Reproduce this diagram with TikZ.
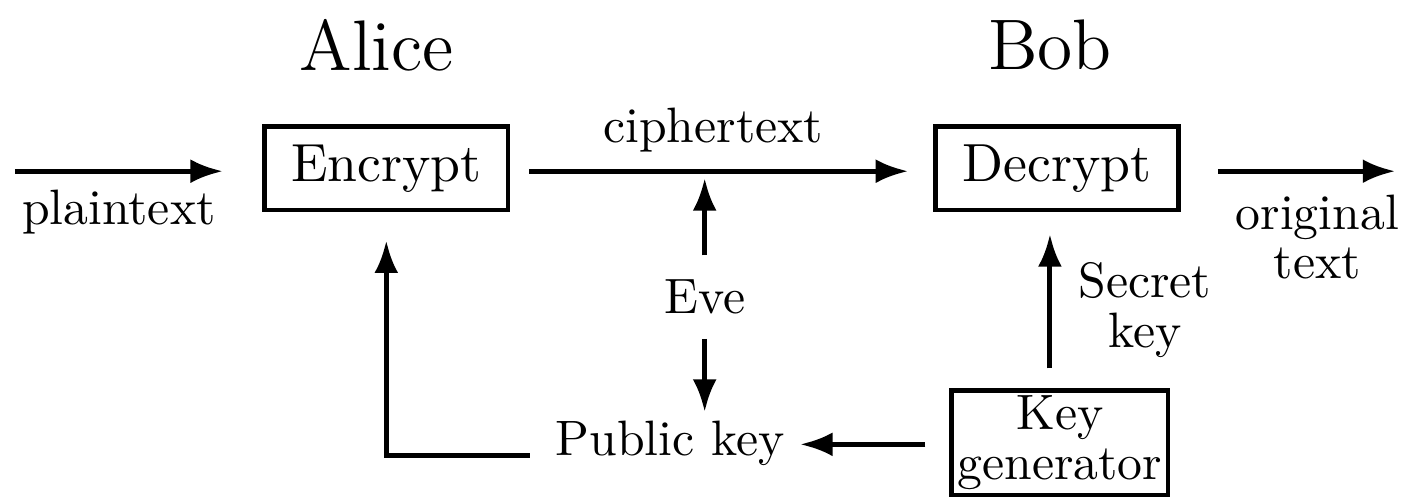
\documentclass[tikz,border=0pt]{standalone}
\usetikzlibrary{arrows}
\usetikzlibrary{arrows.meta}
\usetikzlibrary{calc}
\usepackage{xcolor}

\tikzset{
  box/.style={draw,line width=0.9pt,font=\fontsize{10.8}{13}\selectfont,minimum width=1.72cm,minimum height=0.59cm},
  twoline/.style={align=center,execute at begin node={\setlength{\baselineskip}{10pt}}},
  arr/.style={-{Latex[length=6.5pt,width=4.8pt]},line width=1pt}
}

\begin{document}
\begin{tikzpicture}[scale=1]
    \useasboundingbox (0,0) rectangle (10,3.52);

    \node[font=\Large] (alice) at (2.66,3.20) {Alice};
    \node[font=\Large] (bob) at (7.42,3.20) {Bob};

    \node[box] (enc) at (2.73,2.33) {Encrypt};
    \node[box] (dec) at (7.47,2.33) {Decrypt};
    \node[draw,line width=0.9pt,twoline,minimum width=1.53cm,minimum height=0.74cm,inner sep=0.5pt] (keygen) at (7.49,0.39) {Key\\generator};

    \node (eve) at (4.98,1.42) {Eve};
    \node[inner sep=1pt] (pub) at (4.735,0.39) {Public key};
    \node[twoline] (sk) at (8.09,1.33) {Secret\\key};
    \node[twoline] (orig) at (9.31,1.845) {original\\text};

    \coordinate (src) at (0.106,2.31);
    \coordinate (dst) at (9.859,2.31);
    \coordinate (tap) at (4.98,2.31);

    \draw[arr,shorten >=0.28cm] (src) -- (enc.west |- src) node[pos=0.42,below] (plain) {plaintext};
    \draw[arr,shorten <=0.134cm,shorten >=0.177cm] (enc.east |- src) -- (dec.west |- src) node[pos=0.48,above] (ctext) {ciphertext};
    \draw[arr,shorten <=0.26cm] (dec.east |- dst) -- (dst);

    \draw[arr,shorten <=0.05cm,shorten >=0.05cm] (eve) -- (tap);
    \draw[arr,shorten <=0.05cm,shorten >=0.02cm] (eve) -- (eve |- pub.north);

    \draw[arr,shorten <=0.17cm,shorten >=0.07cm] (keygen.west |- pub.mid east) -- (pub.mid east);
    \draw[arr,shorten <=0.14cm,shorten >=0.2cm] (pub.base west) -| (enc.south);
    \draw[arr,shorten <=0.14cm,shorten >=0.155cm] ([xshift=-0.07cm]keygen.north) -- ([xshift=-0.07cm]keygen.north |- dec.south);
  \end{tikzpicture}
\end{document}
